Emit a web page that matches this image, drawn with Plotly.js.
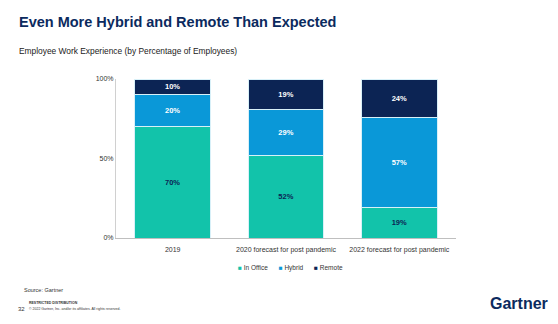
<!DOCTYPE html>
<html><head><meta charset="utf-8">
<script src="https://cdn.plot.ly/plotly-3.0.1.min.js"></script>
<style>html,body{margin:0;padding:0;background:#fff;}#chart{width:558px;height:324px;}</style>
</head><body><div id="chart"></div>
<script>
const categories = ["2019", "2020 forecast for post pandemic", "2022 forecast for post pandemic"];
const inOffice = [70, 52, 19];
const hybrid = [20, 29, 57];
const remote = [10, 19, 24];
const seriesNames = ["In Office", "Hybrid", "Remote"];
const colors = ["#12c3aa", "#0a98d8", "#0c2454"];
const textColors = ["#0c2454", "#ffffff", "#ffffff"];
const yTicks = [0, 50, 100];
const yTickLabels = ["0%", "50%", "100%"];

const series = [inOffice, hybrid, remote];
const traces = series.map((vals, i) => ({
  type: "bar", x: categories, y: vals, name: seriesNames[i],
  marker: {color: colors[i], line: {color: "#d8f0f8", width: 1}},
  text: vals.map(v => "<b>" + v + "%</b>"), textposition: "inside", insidetextanchor: "middle",
  textfont: {family: "Liberation Sans, Arial", size: 7.5, color: textColors[i]},
  hoverinfo: "skip", showlegend: false
}));

const W = 340, H = 159;
const px = x => (x - 116) / W;
const py = y => (238 - y) / H;

const legendText = seriesNames.map((n, i) =>
  `<span style="color:${colors[i]}">■</span> ${n}`).join("      ");

const layout = {
  width: 558, height: 324, barmode: "stack", bargap: 0.33,
  paper_bgcolor: "#fff", plot_bgcolor: "#fff",
  margin: {l: 116, r: 102, t: 79, b: 86},
  font: {family: "Liberation Sans, Arial", size: 7, color: "#333"},
  showlegend: false,
  xaxis: {type: "category", showline: true, linecolor: "#bfbfbf", linewidth: 1, ticks: "", showgrid: false,
    tickfont: {size: 7, color: "#333"}, ticklabelstandoff: 5, fixedrange: true},
  yaxis: {range: [0, 100], tickvals: yTicks, ticktext: yTickLabels, showgrid: false, zeroline: false,
    showline: true, linecolor: "#d0d0d0", linewidth: 1, ticks: "", ticklen: 0,
    tickfont: {size: 7, color: "#333"}, fixedrange: true},
  annotations: [
    {text: "<b>Even More Hybrid and Remote Than Expected</b>", xref: "paper", yref: "paper",
     x: px(17), y: py(22), xanchor: "left", yanchor: "middle", showarrow: false,
     font: {family: "Liberation Sans, Arial", size: 14.5, color: "#0b2a5e"}},
    {text: "Employee Work Experience (by Percentage of Employees)", xref: "paper", yref: "paper",
     x: px(17), y: py(51), xanchor: "left", yanchor: "middle", showarrow: false,
     font: {family: "Liberation Sans, Arial", size: 8.4, color: "#222"}},
    {text: legendText, xref: "paper", yref: "paper",
     x: px(290), y: py(268), xanchor: "center", yanchor: "middle", showarrow: false,
     font: {size: 6.5, color: "#333"}},
    {text: "Source: Gartner", xref: "paper", yref: "paper",
     x: px(22), y: py(290), xanchor: "left", yanchor: "middle", showarrow: false,
     font: {size: 5.5, color: "#333"}},
    {text: "<b>RESTRICTED DISTRIBUTION</b>", xref: "paper", yref: "paper",
     x: px(27), y: py(303), xanchor: "left", yanchor: "middle", showarrow: false,
     font: {size: 3.5, color: "#333"}},
    {text: "32", xref: "paper", yref: "paper",
     x: px(16), y: py(309), xanchor: "left", yanchor: "middle", showarrow: false,
     font: {size: 6, color: "#333"}},
    {text: "© 2022 Gartner, Inc. and/or its affiliates. All rights reserved.", xref: "paper", yref: "paper",
     x: px(27), y: py(309), xanchor: "left", yanchor: "middle", showarrow: false,
     font: {size: 3.5, color: "#333"}},
    {text: "<b>Gartner</b>", xref: "paper", yref: "paper",
     x: px(550), y: py(303), xanchor: "right", yanchor: "middle", showarrow: false,
     font: {family: "Liberation Sans, Arial", size: 16, color: "#0b2a5e"}}
  ]
};
Plotly.newPlot("chart", traces, layout, {displayModeBar: false, staticPlot: true});
</script></body></html>
